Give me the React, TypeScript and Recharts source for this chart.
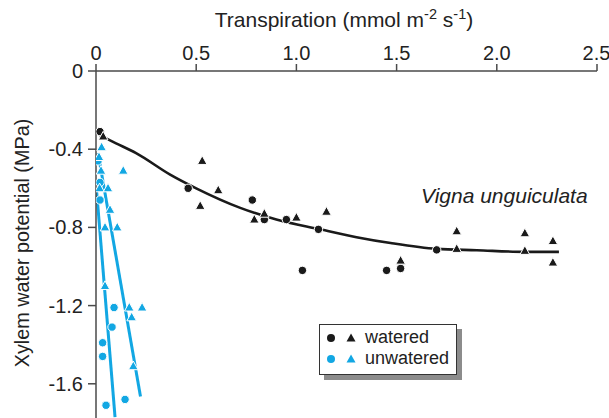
import { ComposedChart, Line, Scatter, XAxis, YAxis } from "recharts"

// transpiration (mmol m-2 s-1), xylem water potential (MPa)
const wateredCircles = [
  [0.02, -0.31], [0.46, -0.6], [0.78, -0.66], [0.84, -0.76], [0.95, -0.76],
  [1.11, -0.81], [1.03, -1.02], [1.45, -1.02], [1.52, -1.01], [1.7, -0.915],
]
const wateredTriangles = [
  [0.036, -0.335], [0.53, -0.46], [0.61, -0.61], [0.52, -0.69], [0.79, -0.76],
  [0.84, -0.73], [1.0, -0.75], [1.15, -0.72], [1.52, -0.97], [1.8, -0.82],
  [1.8, -0.91], [2.14, -0.83], [2.14, -0.92], [2.28, -0.87], [2.28, -0.98],
]
const unwateredCircles = [
  [0.01, -0.46], [0.02, -0.57], [0.02, -0.66], [0.09, -1.21], [0.08, -1.31],
  [0.033, -1.39], [0.033, -1.46], [0.05, -1.71], [0.145, -1.68],
]
const unwateredTriangles = [
  [0.028, -0.39], [0.015, -0.44], [0.025, -0.51], [0.136, -0.51], [0.018, -0.6],
  [0.06, -0.6], [0.07, -0.71], [0.045, -0.8], [0.106, -0.8], [0.045, -1.1],
  [0.166, -1.21], [0.23, -1.21], [0.178, -1.26], [0.186, -1.51],
]

// fitted curves
const wateredFit = [
  [0.02, -0.33], [0.1, -0.37], [0.2, -0.42], [0.37, -0.53], [0.5, -0.6],
  [0.72, -0.7], [0.9, -0.76], [1.12, -0.81], [1.3, -0.85], [1.47, -0.88],
  [1.7, -0.91], [1.9, -0.917], [2.14, -0.925], [2.31, -0.925],
]
const unwateredCircleFit = [[0.002, -0.6], [0.095, -1.77]]
const unwateredTriangleFit = [[0.01, -0.42], [0.222, -1.665]]

const xTicks = [0, 0.5, 1, 1.5, 2, 2.5]
const yTicks = [0, -0.4, -0.8, -1.2, -1.6]

const BLACK = "#1a1a1a"
const BLUE = "#12a7e3"
const AXIS = "#4a4a4a"
const FONT = "'Liberation Sans', Arial, sans-serif"

const toPts = (arr: number[][]) => arr.map(([x, y]) => ({ x, y }))

const fmt = (v: number) => (v === 0 ? "0" : v.toFixed(1))

function circleShape(color: string) {
  return (props: any) => (
    <circle cx={props.cx} cy={props.cy} r={4.2} fill={color} stroke="#fff" strokeWidth={1} />
  )
}

function triangleShape(color: string) {
  return (props: any) => {
    const { cx, cy } = props
    return (
      <polygon
        points={`${cx},${cy - 5.2} ${cx + 4.8},${cy + 3.5} ${cx - 4.8},${cy + 3.5}`}
        fill={color}
        stroke="#fff"
        strokeWidth={1}
      />
    )
  }
}

function LegendMarks({ color }: { color: string }) {
  return (
    <svg width={34} height={12} style={{ marginRight: 6 }}>
      <circle cx={6} cy={6} r={4} fill={color} />
      <polygon points="26,1.5 30.5,9.5 21.5,9.5" fill={color} />
    </svg>
  )
}

export default function App() {
  const tickStyle = { fill: "#222", fontSize: 20, fontFamily: FONT }

  return (
    <div
      style={{
        position: "absolute",
        left: 0,
        top: 0,
        width: 609,
        height: 418,
        background: "#fff",
        fontFamily: FONT,
        color: "#222",
        overflow: "hidden",
      }}
    >
      <ComposedChart width={609} height={418} margin={{ top: 0, right: 12, bottom: 0, left: 0 }}>
        <XAxis
          type="number"
          dataKey="x"
          orientation="top"
          domain={[0, 2.5]}
          ticks={xTicks}
          tickFormatter={fmt}
          height={71}
          tickSize={7}
          tickMargin={4}
          tick={tickStyle}
          stroke={AXIS}
          strokeWidth={1.5}
          allowDataOverflow
        />
        <YAxis
          type="number"
          dataKey="y"
          domain={[-1.775, 0]}
          ticks={yTicks}
          tickFormatter={fmt}
          width={96}
          tickSize={8}
          tickMargin={5}
          tick={tickStyle}
          stroke={AXIS}
          strokeWidth={1.5}
          allowDataOverflow
        />
        <Line
          data={toPts(wateredFit)}
          dataKey="y"
          type="monotone"
          stroke={BLACK}
          strokeWidth={2.6}
          dot={false}
          isAnimationActive={false}
        />
        <Line
          data={toPts(unwateredCircleFit)}
          dataKey="y"
          type="linear"
          stroke={BLUE}
          strokeWidth={3}
          dot={false}
          isAnimationActive={false}
        />
        <Line
          data={toPts(unwateredTriangleFit)}
          dataKey="y"
          type="linear"
          stroke={BLUE}
          strokeWidth={3}
          dot={false}
          isAnimationActive={false}
        />
        <Scatter data={toPts(wateredCircles)} shape={circleShape(BLACK)} isAnimationActive={false} />
        <Scatter data={toPts(wateredTriangles)} shape={triangleShape(BLACK)} isAnimationActive={false} />
        <Scatter data={toPts(unwateredCircles)} shape={circleShape(BLUE)} isAnimationActive={false} />
        <Scatter data={toPts(unwateredTriangles)} shape={triangleShape(BLUE)} isAnimationActive={false} />
      </ComposedChart>

      <div
        style={{
          position: "absolute",
          left: -6,
          width: 700,
          top: 6,
          textAlign: "center",
          fontSize: 21,
          whiteSpace: "nowrap",
        }}
      >
        Transpiration (mmol m<sup style={{ fontSize: 14.5 }}>-2</sup> s<sup style={{ fontSize: 14.5 }}>-1</sup>)
      </div>

      <div
        style={{
          position: "absolute",
          left: 22,
          top: 243,
          transform: "translate(-50%, -50%) rotate(-90deg)",
          fontSize: 19.8,
          whiteSpace: "nowrap",
        }}
      >
        Xylem water potential (MPa)
      </div>

      <div
        style={{
          position: "absolute",
          left: 421,
          top: 184,
          fontSize: 21,
          fontStyle: "italic",
          whiteSpace: "nowrap",
        }}
      >
        Vigna unguiculata
      </div>

      <div
        style={{
          position: "absolute",
          left: 319,
          top: 324,
          width: 136,
          height: 47,
          border: "1px solid #333",
          background: "#fff",
          boxShadow: "5px 5px 0 #8c8c8c",
          boxSizing: "content-box",
          fontSize: 18,
          lineHeight: "21px",
          paddingTop: 2,
        }}
      >
        <div style={{ display: "flex", alignItems: "center", paddingLeft: 5 }}>
          <LegendMarks color={BLACK} />
          watered
        </div>
        <div style={{ display: "flex", alignItems: "center", paddingLeft: 5 }}>
          <LegendMarks color={BLUE} />
          unwatered
        </div>
      </div>
    </div>
  )
}
